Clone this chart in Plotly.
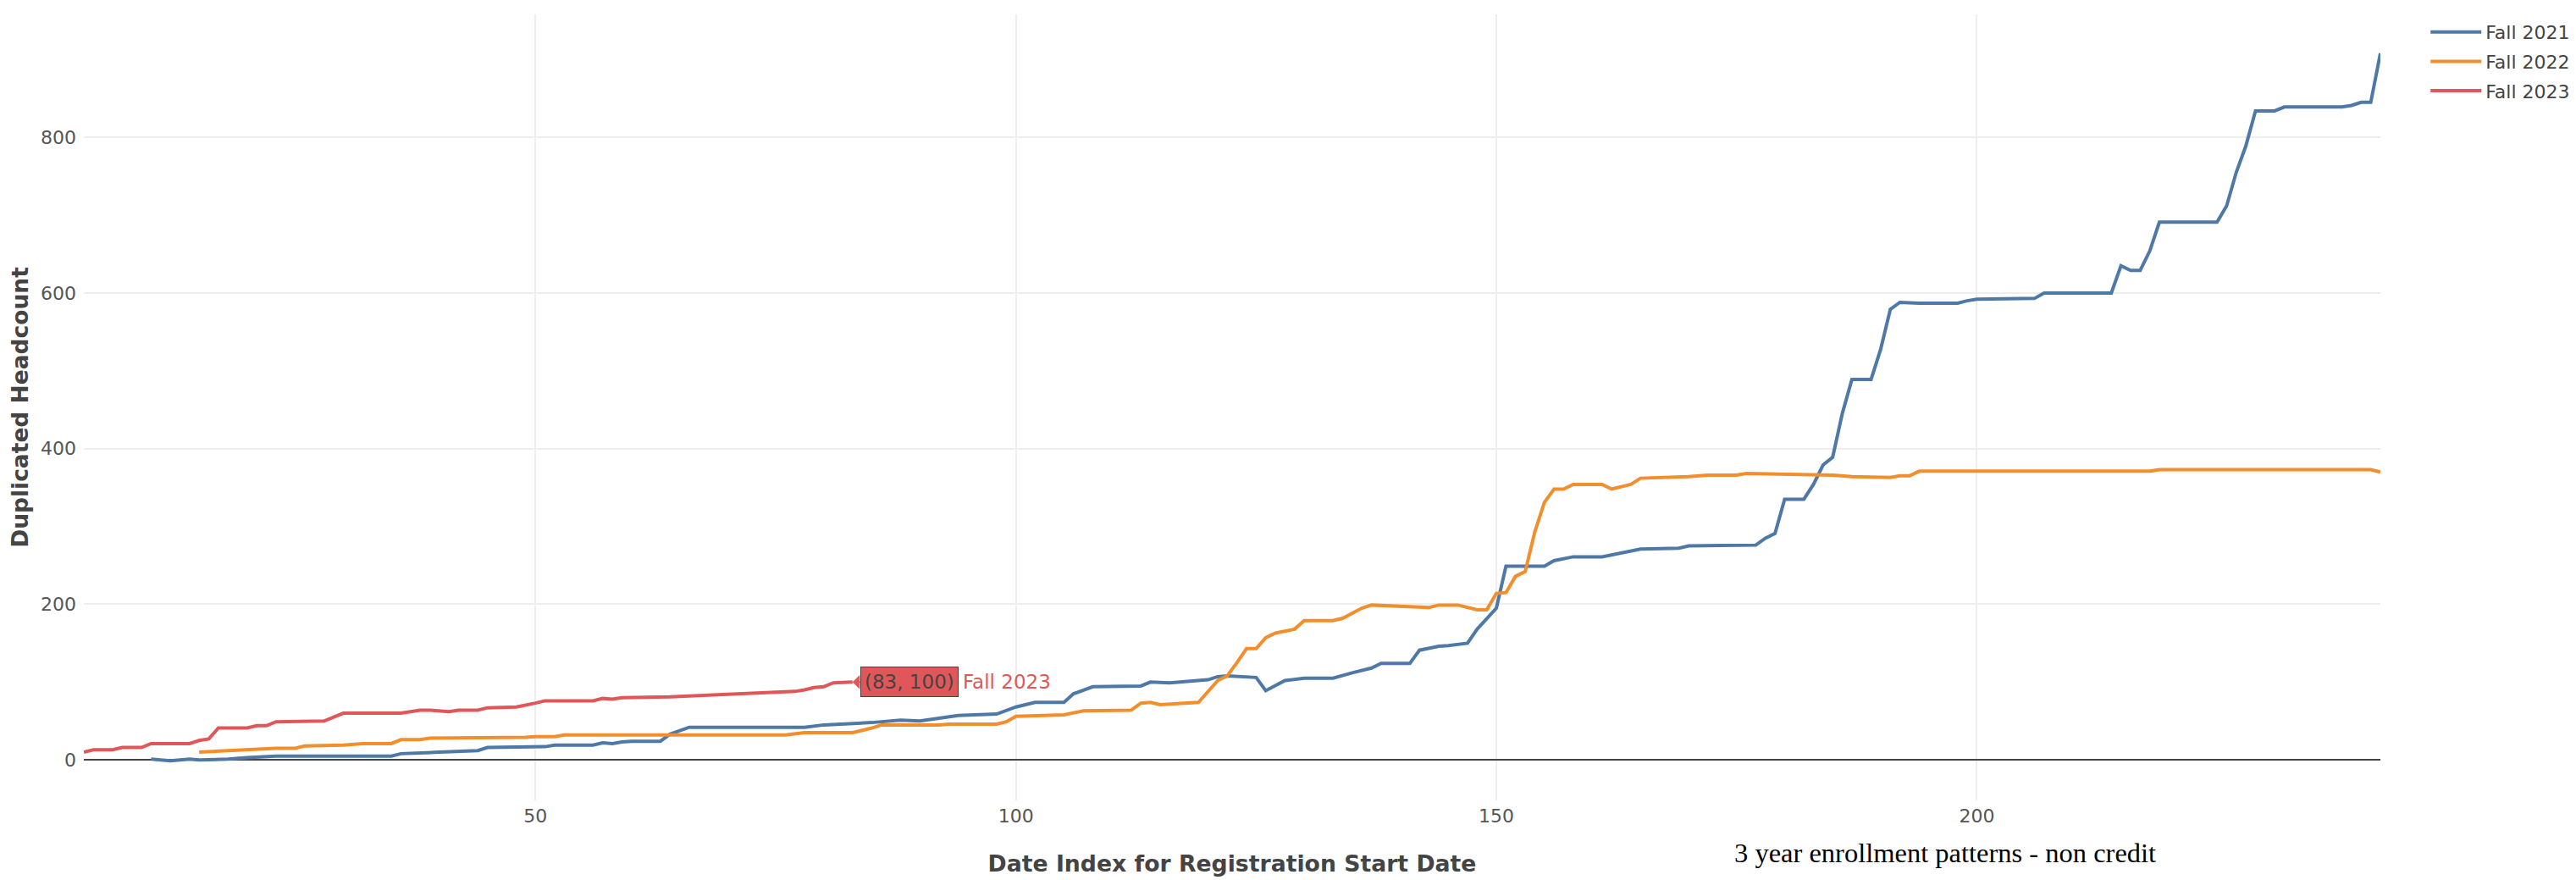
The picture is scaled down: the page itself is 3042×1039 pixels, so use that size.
import plotly.graph_objects as go

# ---- data ----
fall2021_x = [10, 11, 12, 13, 14, 15, 18, 20, 23, 35, 36, 40, 44, 45, 51, 52, 56, 57, 58, 59, 60, 63, 64, 66,
              78, 80, 85, 88, 90, 94, 98, 100, 102, 105, 106, 108, 113, 114, 116, 120, 121, 122, 124, 125,
              126, 128, 130, 133, 135, 137, 138, 141, 142, 144, 145, 147, 148, 150, 151, 155, 156, 158, 161,
              165, 169, 170, 177, 178, 179, 180, 182, 183, 184, 185, 186, 187, 189, 190, 191, 192, 194, 198,
              199, 200, 206, 207, 214, 215, 216, 217, 218, 219, 225, 226, 227, 228, 229, 231, 232, 238, 239,
              240, 241, 242]
fall2021_y = [1, 0, -1, 0, 1, 0, 1, 3, 5, 5, 8, 10, 12, 16, 17, 19, 19, 22, 21, 23, 24, 24, 33, 42,
              42, 45, 48, 51, 50, 57, 59, 68, 74, 74, 85, 94, 95, 100, 99, 103, 107, 108, 106, 106,
              89, 102, 105, 105, 112, 118, 124, 124, 141, 146, 147, 150, 168, 195, 249, 249, 256, 261, 261,
              271, 272, 275, 276, 285, 291, 335, 335, 354, 379, 389, 445, 489, 489, 528, 579, 588, 587, 587,
              590, 592, 593, 600, 600, 635, 629, 629, 654, 691, 691, 712, 755, 789, 834, 834, 839, 839, 841,
              845, 845, 908]

fall2022_x = [15, 22, 23, 25, 26, 30, 32, 35, 36, 38, 39, 49, 50, 52, 53, 64, 76, 78, 83, 85, 86, 92, 93,
              98, 99, 100, 105, 107, 112, 113, 114, 115, 119, 121, 122, 123, 124, 125, 126, 127, 129, 130,
              133, 134, 136, 137, 143, 144, 146, 148, 149, 150, 151, 152, 153, 154, 155, 156, 157, 158, 161,
              162, 164, 165, 169, 170, 172, 175, 176, 185, 187, 189, 191, 192, 193, 194, 218, 219, 241, 242]
fall2022_y = [10, 14, 15, 15, 18, 19, 21, 21, 26, 26, 28, 29, 30, 30, 32, 32, 32, 35, 35, 41, 45, 45, 46,
              46, 49, 56, 58, 63, 64, 73, 74, 71, 74, 102, 108, 125, 143, 143, 157, 163, 168, 179,
              179, 182, 195, 199, 196, 199, 199, 193, 193, 214, 215, 236, 242, 293, 331, 348, 348, 354, 354,
              348, 354, 362, 363, 364, 366, 366, 368, 366, 364, 363, 363, 365, 365, 371, 371, 373, 373, 370]

fall2023_x = [3, 4, 6, 7, 9, 10, 14, 15, 16, 17, 20, 21, 22, 23, 28, 30, 36, 38, 39, 41, 42, 44, 45, 48,
              50, 51, 56, 57, 58, 59, 64, 68, 72, 77, 78, 79, 80, 81, 83]
fall2023_y = [10, 13, 13, 16, 16, 21, 21, 25, 27, 41, 41, 44, 44, 49, 50, 60, 60, 64, 64, 62, 64, 64, 67, 68,
              73, 76, 76, 79, 78, 80, 81, 83, 86, 88, 90, 93, 94, 99, 100]

series_names = ["Fall 2021", "Fall 2022", "Fall 2023"]
series_colors = ["#4e79a7", "#f28e2b", "#e15759"]

x_title = "Date Index for Registration Start Date"
y_title = "Duplicated Headcount"
note_text = "3 year enrollment patterns - non credit"

FONT = "DejaVu Sans"
TICK_COLOR = "#555555"

fig = go.Figure()
for name, xs, ys, col in zip(series_names,
                             [fall2021_x, fall2022_x, fall2023_x],
                             [fall2021_y, fall2022_y, fall2023_y],
                             series_colors):
    fig.add_trace(go.Scatter(x=xs, y=ys, mode="lines", name=name, legendgroup=name,
                             line=dict(color=col, width=4)))

# hover-style label at the last Fall 2023 point
hx, hy = fall2023_x[-1], fall2023_y[-1]
fig.add_annotation(x=hx, y=hy, xref="x", yref="y", text=f"({hx}, {hy})",
                   showarrow=True, ax=67, ay=0, arrowhead=1, arrowsize=1.4, arrowwidth=2,
                   arrowcolor=series_colors[2], standoff=0,
                   bgcolor=series_colors[2], bordercolor="#444444", borderwidth=1, borderpad=4,
                   font=dict(family=FONT, size=23, color="#444444"))
fig.add_annotation(x=hx, y=hy, xref="x", yref="y", text=series_names[2], showarrow=False,
                   xanchor="left", yanchor="middle", xshift=128,
                   font=dict(family=FONT, size=23, color=series_colors[2]))

fig.add_annotation(x=0.8105, y=-0.0665, xref="paper", yref="paper", text=note_text, showarrow=False,
                   xanchor="center", yanchor="middle",
                   font=dict(family="Liberation Serif", size=32.5, color="#000000"))

fig.update_layout(
    width=3042, height=1039,
    margin=dict(l=91, r=239, t=9, b=102, autoexpand=False),
    paper_bgcolor="white", plot_bgcolor="white",
    font=dict(family=FONT, size=22, color=TICK_COLOR),
    showlegend=True,
    legend=dict(x=1.02, y=1, xanchor="left", yanchor="top", itemwidth=60, tracegroupgap=3,
                font=dict(family=FONT, size=22, color="#444444")),
    xaxis=dict(title=dict(text=x_title, standoff=35,
                          font=dict(family=FONT, size=26.7, color="#444444", weight="bold")),
               automargin=False,
               dtick=50, tick0=0, showgrid=True, gridcolor="#eeeeee", gridwidth=2,
               zeroline=False, showline=False, ticks="", ticklabelstandoff=3,
               tickfont=dict(family=FONT, size=22, color=TICK_COLOR)),
    yaxis=dict(title=dict(text=y_title, standoff=6,
                          font=dict(family=FONT, size=26.5, color="#444444", weight="bold")),
               automargin=True, range=[-52, 958],
               dtick=200, tick0=0, showgrid=True, gridcolor="#eeeeee", gridwidth=2,
               zeroline=True, zerolinecolor="#444444", zerolinewidth=2, showline=False, ticks="",
               ticklabelstandoff=8,
               tickfont=dict(family=FONT, size=22, color=TICK_COLOR)),
)

fig.write_html("out.html")
